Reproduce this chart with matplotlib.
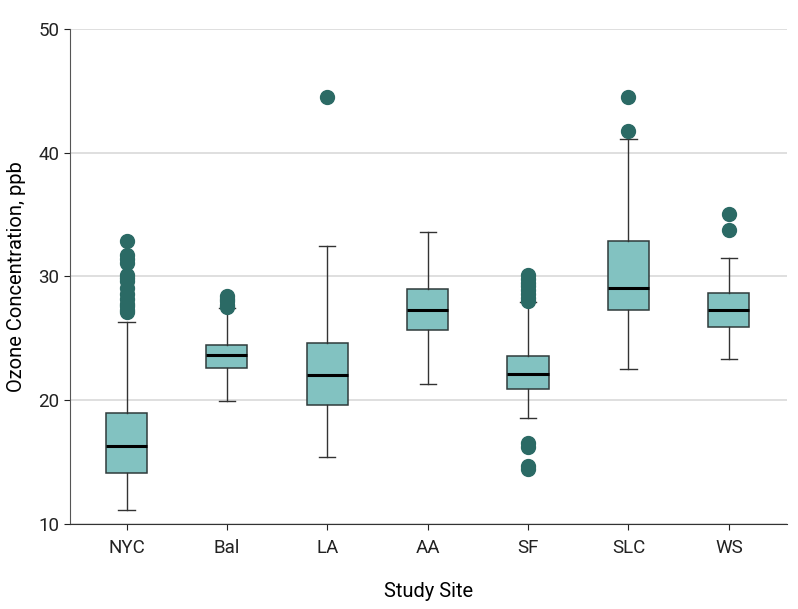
import matplotlib.pyplot as plt

# Box statistics (ppb)
sites = ['NYC', 'Bal', 'LA', 'AA', 'SF', 'SLC', 'WS']
whis_lo = [11.1, 19.95, 15.4, 21.3, 18.55, 22.5, 23.35]
q1 = [14.1, 22.6, 19.6, 25.7, 20.9, 27.3, 25.9]
medians = [16.25, 23.65, 22.0, 27.3, 22.1, 29.05, 27.3]
q3 = [18.95, 24.45, 24.6, 29.0, 23.6, 32.9, 28.7]
whis_hi = [26.3, 27.45, 32.45, 33.6, 27.9, 41.1, 31.5]
outliers = [
    [27.1, 27.3, 27.6, 27.8, 28.2, 28.6, 29.1, 29.6, 29.9, 30.1, 31.1, 31.4, 31.7, 32.9],
    [27.5, 27.7, 28.0, 28.2, 28.4],
    [44.5],
    [],
    [14.4, 14.7, 16.2, 16.5, 28.0, 28.3, 28.6, 28.9, 29.2, 29.5, 29.8, 30.1],
    [41.8, 44.5],
    [33.75, 35.05],
]

plt.rcParams['font.family'] = ['Roboto', 'DejaVu Sans']

stats = []
for i in range(len(sites)):
    stats.append({'label': sites[i], 'whislo': whis_lo[i], 'q1': q1[i], 'med': medians[i],
                  'q3': q3[i], 'whishi': whis_hi[i], 'fliers': outliers[i]})

fig = plt.figure(figsize=(7.98, 6.09), dpi=100)
ax = fig.add_axes([0.0877, 0.140, 0.898, 0.812])

ax.bxp(stats, widths=0.41, patch_artist=True, capwidths=0.16,
       boxprops=dict(facecolor='#82c2c1', edgecolor='#2f3b3b', linewidth=1.1),
       medianprops=dict(color='black', linewidth=2.2),
       whiskerprops=dict(color='#333333', linewidth=1.0),
       capprops=dict(color='#333333', linewidth=1.0),
       flierprops=dict(marker='o', markerfacecolor='#2b6a65', markeredgecolor='#2b6a65',
                       markersize=10, linestyle='none'))

ax.set_ylim(10, 50)
ax.set_xlim(0.437, 7.575)
ax.set_yticks([10, 20, 30, 40, 50])
ax.yaxis.grid(True, color='#d9d9d9', linewidth=1.2)
ax.set_axisbelow(True)
for s in ['top', 'right']:
    ax.spines[s].set_visible(False)
ax.spines['left'].set_color('#555555')
ax.spines['bottom'].set_color('#333333')
ax.tick_params(axis='both', labelsize=13.5, colors='#222222', length=4, width=0.8)
ax.tick_params(axis='x', pad=7)
ax.set_xlabel('Study Site', fontsize=14.5, labelpad=18)
ax.set_ylabel('Ozone Concentration, ppb', fontsize=14.5, labelpad=9)

plt.savefig('out.png', dpi=100)
